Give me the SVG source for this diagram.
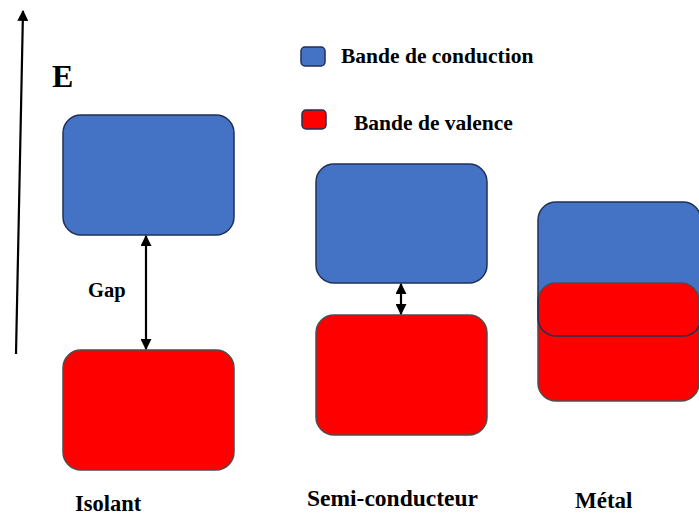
<svg xmlns="http://www.w3.org/2000/svg" width="699" height="515" viewBox="0 0 699 515">
  <style>
    .cb { fill: #4472c4; stroke: #1f3157; stroke-width: 1.5; }
    .vb { fill: #ff0000; stroke: #4d4d4d; stroke-width: 1.5; }
    .arr { stroke: #000; stroke-width: 2.2; fill: none; }
  </style>
  <defs>
    <marker id="head" viewBox="0 0 10 10" refX="9" refY="5" markerWidth="5" markerHeight="5" orient="auto-start-reverse">
      <path d="M0,0 L10,5 L0,10 Z" fill="#000"/>
    </marker>
    <clipPath id="metalClip">
      <rect x="538" y="202" width="163" height="134" rx="18"/>
    </clipPath>
  </defs>
  <rect width="699" height="515" fill="#fff"/>

  <g font-family="'Liberation Serif', serif" font-weight="bold" fill="#000">
    <!-- energy axis -->
    <g id="axis">
      <line class="arr" x1="16" y1="354" x2="23" y2="11" marker-end="url(#head)"/>
      <text x="52" y="87" font-size="32">E</text>
    </g>

    <!-- legend -->
    <g id="legend">
      <rect x="301" y="47" width="24" height="19" rx="4" class="cb"/>
      <text x="341" y="63" font-size="21.5">Bande de conduction</text>
      <rect x="302" y="110" width="24" height="19" rx="4" fill="#ff0000" stroke="#1f3157" stroke-width="1.5"/>
      <text x="354" y="130" font-size="21.5">Bande de valence</text>
    </g>

    <!-- insulator -->
    <g id="isolant">
      <rect x="63" y="115" width="171" height="120" rx="18" class="cb"/>
      <rect x="63" y="350" width="171" height="120" rx="18" class="vb"/>
      <text x="75" y="511" font-size="22.5">Isolant</text>
    </g>

    <!-- semiconductor -->
    <g id="semi-conducteur">
      <rect x="316" y="164" width="171" height="119" rx="18" class="cb"/>
      <rect x="316" y="315" width="171" height="120" rx="18" class="vb"/>
      <text x="307" y="506" font-size="23.5">Semi-conducteur</text>
    </g>

    <!-- metal: overlapping bands -->
    <g id="metal">
      <rect x="538" y="283" width="161" height="118" rx="18" class="vb"/>
      <rect x="538" y="202" width="163" height="134" rx="18" fill="#4472c4"/>
      <rect x="538" y="283" width="161" height="118" rx="18" class="vb" clip-path="url(#metalClip)"/>
      <rect x="538" y="202" width="163" height="134" rx="18" fill="none" stroke="#1f3157" stroke-width="1.5"/>
      <text x="575" y="508" font-size="23">Métal</text>
    </g>

    <!-- gap arrows -->
    <g id="connectors">
      <line class="arr" x1="146" y1="236" x2="146" y2="349" marker-start="url(#head)" marker-end="url(#head)"/>
      <line class="arr" x1="401" y1="284" x2="401" y2="314" marker-start="url(#head)" marker-end="url(#head)"/>
    </g>
    <text x="88" y="297" font-size="20.5">Gap</text>
  </g>
</svg>
